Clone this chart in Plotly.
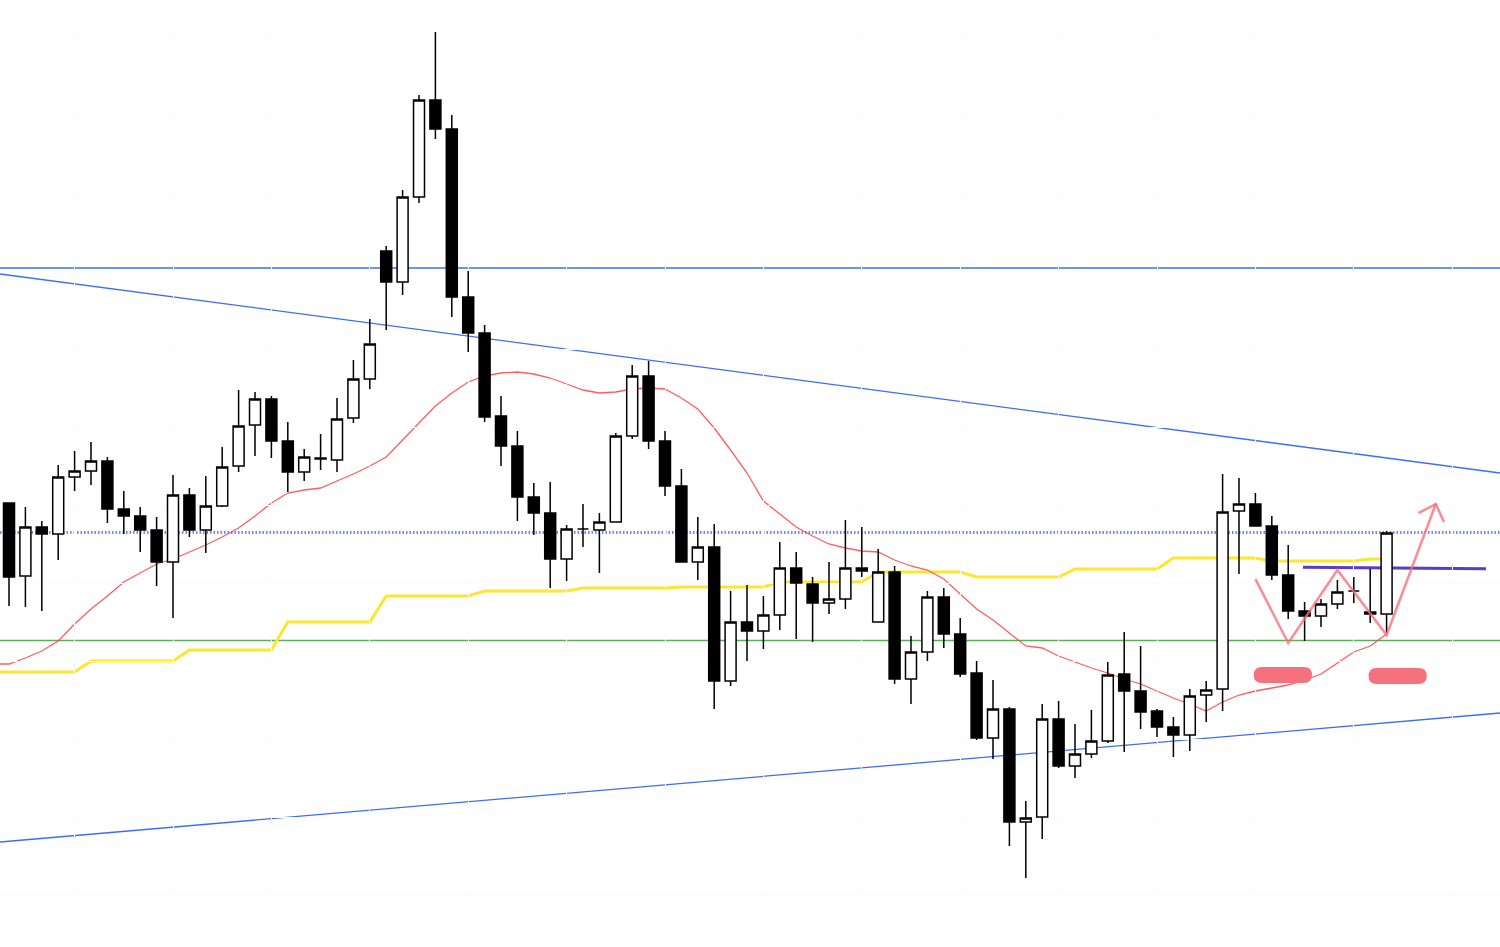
import plotly.graph_objects as go

# ---- price bars (oldest -> newest) ----
open_ = [149.7, 142.4, 147.3, 146.6, 152.3, 152.9, 153.9, 149.1, 148.4, 147.0,
         143.8, 150.5, 147.0, 149.4, 153.4, 157.5, 160.1, 155.9, 152.8, 154.2,
         154.0, 158.2, 162.1, 174.9, 171.8, 180.3, 190.0, 187.1, 170.3, 166.7,
         158.4, 155.4, 150.3, 148.7, 144.1, 147.1, 147.0, 147.8, 156.4, 162.4,
         155.9, 151.4, 143.8, 145.3, 131.9, 137.8, 136.9, 138.5, 143.2, 141.6,
         139.7, 140.1, 143.2, 137.8, 142.8, 132.1, 134.8, 140.3, 136.6, 132.7,
         126.2, 129.1, 117.8, 118.3, 128.1, 123.4, 124.6, 125.9, 132.6, 130.9,
         128.9, 127.3, 126.5, 130.5, 131.1, 148.9, 149.6, 147.4, 142.5, 138.9,
         138.4, 139.6, 140.9, 138.8, 138.6]
high_ = [149.7, 149.3, 147.9, 153.5, 154.9, 155.8, 154.3, 150.9, 149.3, 148.3,
         152.5, 151.2, 152.4, 155.3, 161.0, 160.8, 160.4, 157.8, 155.1, 156.6,
         160.2, 164.0, 168.1, 175.4, 181.0, 190.5, 196.8, 188.5, 172.9, 167.5,
         160.4, 156.9, 151.7, 151.8, 147.5, 149.6, 148.7, 156.7, 163.5, 163.9,
         156.9, 153.1, 148.3, 147.6, 140.9, 141.5, 140.4, 145.8, 144.8, 142.3,
         143.8, 148.0, 147.3, 145.1, 143.4, 136.4, 140.9, 141.2, 138.2, 133.9,
         132.0, 129.3, 119.9, 129.6, 129.9, 127.6, 129.0, 133.8, 136.8, 135.4,
         129.1, 128.3, 131.1, 131.9, 152.6, 152.2, 150.7, 148.4, 145.5, 139.8,
         140.1, 142.0, 142.3, 143.1, 146.9]
low_ = [139.4, 139.3, 138.9, 144.0, 150.9, 151.5, 147.7, 146.6, 144.8, 141.4,
        138.2, 146.3, 144.7, 149.3, 152.8, 154.4, 154.2, 150.8, 151.9, 153.0,
        152.8, 157.7, 161.1, 167.0, 170.5, 179.7, 186.1, 168.3, 164.8, 157.8,
        153.4, 147.9, 146.5, 141.2, 141.9, 145.3, 142.7, 147.8, 156.1, 155.1,
        150.4, 143.8, 142.0, 129.1, 131.4, 133.9, 135.1, 137.0, 136.1, 135.8,
        138.6, 139.1, 142.3, 137.8, 131.6, 129.6, 133.9, 135.2, 132.3, 126.0,
        124.1, 115.4, 112.2, 116.1, 123.2, 122.2, 124.2, 125.7, 124.8, 127.1,
        126.3, 124.3, 124.9, 127.8, 128.9, 142.6, 147.4, 142.0, 138.1, 135.9,
        137.3, 139.1, 139.7, 137.7, 136.7]
close_ = [142.3, 147.3, 146.6, 152.3, 152.9, 153.9, 149.1, 148.4, 147.0, 143.8,
          150.5, 147.0, 149.4, 153.3, 157.4, 160.1, 155.9, 152.8, 154.3, 154.1,
          158.1, 162.1, 165.6, 171.8, 180.3, 190.0, 187.1, 170.3, 166.7, 158.3,
          155.4, 150.3, 148.7, 144.1, 147.1, 147.1, 147.8, 156.4, 162.4, 155.9,
          151.4, 143.8, 145.3, 131.9, 137.8, 136.9, 138.5, 143.2, 141.7, 139.7,
          140.1, 143.2, 142.9, 142.8, 132.1, 134.8, 140.3, 136.6, 132.6, 126.2,
          129.1, 117.8, 118.2, 128.1, 123.4, 124.6, 125.9, 132.5, 130.9, 128.8,
          127.3, 126.5, 130.4, 131.0, 148.8, 149.6, 147.4, 142.5, 138.9, 138.4,
          139.6, 140.8, 140.9, 138.6, 146.7]

# ---- indicator lines ----
ma_red = [133.6, 134.2, 134.9, 135.9, 137.6, 139.1, 140.4, 141.8, 142.7, 143.6,
          144.1, 144.8, 145.5, 146.3, 147.2, 148.4, 149.7, 150.7, 151.0, 151.2,
          151.9, 152.6, 153.4, 154.3, 156.0, 157.7, 159.4, 160.7, 161.8, 162.4,
          162.7, 162.8, 162.6, 162.2, 161.6, 161.0, 160.7, 160.8, 161.1, 161.2,
          161.1, 160.2, 159.1, 157.2, 155.0, 152.7, 149.9, 148.6, 147.3, 146.4,
          145.6, 145.2, 144.9, 144.8, 144.0, 143.4, 143.0, 142.1, 140.6, 139.1,
          138.0, 136.7, 135.4, 135.2, 134.4, 133.8, 133.2, 132.7, 132.1, 131.6,
          130.9, 130.2, 129.6, 128.9, 129.8, 130.5, 130.9, 131.2, 131.5, 132.0,
          132.6, 133.7, 134.8, 135.4, 136.6]
ma_yellow = [132.8] * 5 + [133.9] * 6 + [135.0] * 6 + [137.8] * 6 + [140.4] * 6 + \
            [140.9] * 6 + [141.2] * 6 + [141.3] * 6 + [141.8] * 6 + [142.8] * 6 + \
            [142.3] * 6 + [143.1] * 6 + [144.2] * 6 + [143.9] * 6 + [144.1] * 2

# ---- drawn levels and trendlines ----
level_blue = 173.2
level_green = 135.95
level_dot_red = 146.83
level_dot_blue = 146.70
purple_x = [78.9, 90.06]
purple_y = [143.27, 143.13]
trend_down_x = [-0.549, 90.915]
trend_down_y = [172.6, 152.7]
trend_up_x = [-0.549, 90.915]
trend_up_y = [115.8, 128.7]

# ---- pattern sketch ----
zig_x = [76, 78, 81, 84, 87]
zig_y = [142.1, 135.7, 143.0, 136.5, 149.6]
arrow_wing_x = [85.95, 87.5]
arrow_wing_y = [148.7, 147.8]
pill_x = [(75.9, 79.45), (82.9, 86.45)]
pill_y = [(131.7, 133.3), (131.6, 133.2)]

x = list(range(len(open_)))
x_range = [-0.549, 90.915]
y_range = [105.3, 200.0]

fig = go.Figure()
fig.add_trace(go.Candlestick(
    x=x, open=open_, high=high_, low=low_, close=close_,
    increasing=dict(fillcolor="#ffffff", line=dict(color="#000000", width=1.5)),
    decreasing=dict(fillcolor="#000000", line=dict(color="#000000", width=1.5)),
    whiskerwidth=0, hoverinfo="skip", showlegend=False,
))


def poly_path(xs, ys):
    return "M " + " L ".join(f"{a},{b}" for a, b in zip(xs, ys))


shapes = []
# moving averages drawn beneath the bars, carried to the left edge
shapes.append(dict(type="path", xref="x", yref="y", layer="below",
                   path=poly_path([x_range[0]] + x, [ma_yellow[0]] + ma_yellow),
                   line=dict(color="#FFE62E", width=3)))
shapes.append(dict(type="path", xref="x", yref="y", layer="below",
                   path=poly_path([x_range[0]] + x, [ma_red[0]] + ma_red),
                   line=dict(color="rgba(255,75,75,0.9)", width=1.3)))

for lvl, col in [(level_blue, "#3D6BFF"), (level_green, "#5AAE5A")]:
    shapes.append(dict(type="line", xref="paper", yref="y", x0=0, x1=1, y0=lvl, y1=lvl,
                       layer="below", line=dict(color=col, width=1.3)))
for lvl, col in [(level_dot_red, "#FF5A5A"), (level_dot_blue, "#3D6BFF")]:
    shapes.append(dict(type="line", xref="paper", yref="y", x0=0, x1=1, y0=lvl, y1=lvl,
                       layer="below", line=dict(color=col, width=1.3, dash="1.5px,2px")))
for tx, ty in [(trend_down_x, trend_down_y), (trend_up_x, trend_up_y)]:
    shapes.append(dict(type="line", xref="x", yref="y", x0=tx[0], x1=tx[1], y0=ty[0], y1=ty[1],
                       layer="below", line=dict(color="#3D6BFF", width=1.3)))
shapes.append(dict(type="line", xref="x", yref="y", x0=purple_x[0], x1=purple_x[1],
                   y0=purple_y[0], y1=purple_y[1], layer="below",
                   line=dict(color="#5B3CC4", width=3)))

# zigzag with arrow head
pink = "rgba(246,112,122,0.78)"
shapes.append(dict(type="path", xref="x", yref="y", layer="above",
                   path=poly_path(zig_x, zig_y), line=dict(color=pink, width=2.6)))
shapes.append(dict(type="path", xref="x", yref="y", layer="above",
                   path=poly_path([arrow_wing_x[0], zig_x[-1], arrow_wing_x[1]],
                                  [arrow_wing_y[0], zig_y[-1], arrow_wing_y[1]]),
                   line=dict(color=pink, width=2.6)))

# rounded highlight pills
for (x0, x1), (y0, y1) in zip(pill_x, pill_y):
    rx = 0.5
    ry = (y1 - y0) / 2
    p = (f"M {x0 + rx},{y0} L {x1 - rx},{y0} Q {x1},{y0} {x1},{y0 + ry} "
         f"Q {x1},{y1} {x1 - rx},{y1} L {x0 + rx},{y1} Q {x0},{y1} {x0},{y1 - ry} "
         f"Q {x0},{y0} {x0 + rx},{y0} Z")
    shapes.append(dict(type="path", xref="x", yref="y", layer="above", path=p,
                       fillcolor="#F4717D", line=dict(width=0)))

fig.update_layout(
    width=1500, height=947,
    margin=dict(l=0, r=0, t=0, b=0),
    paper_bgcolor="#ffffff", plot_bgcolor="#ffffff",
    showlegend=False,
    boxgap=0.33, boxgroupgap=0,
    shapes=shapes,
    xaxis=dict(range=x_range, showticklabels=False, zeroline=False,
               showgrid=True, gridcolor="#fcfcfc", tick0=4, dtick=6,
               rangeslider=dict(visible=False), fixedrange=True),
    yaxis=dict(range=y_range, showticklabels=False, zeroline=False,
               showgrid=True, gridcolor="#fcfcfc", tick0=188.5, dtick=7.8,
               fixedrange=True),
)

fig.write_html("out.html")
